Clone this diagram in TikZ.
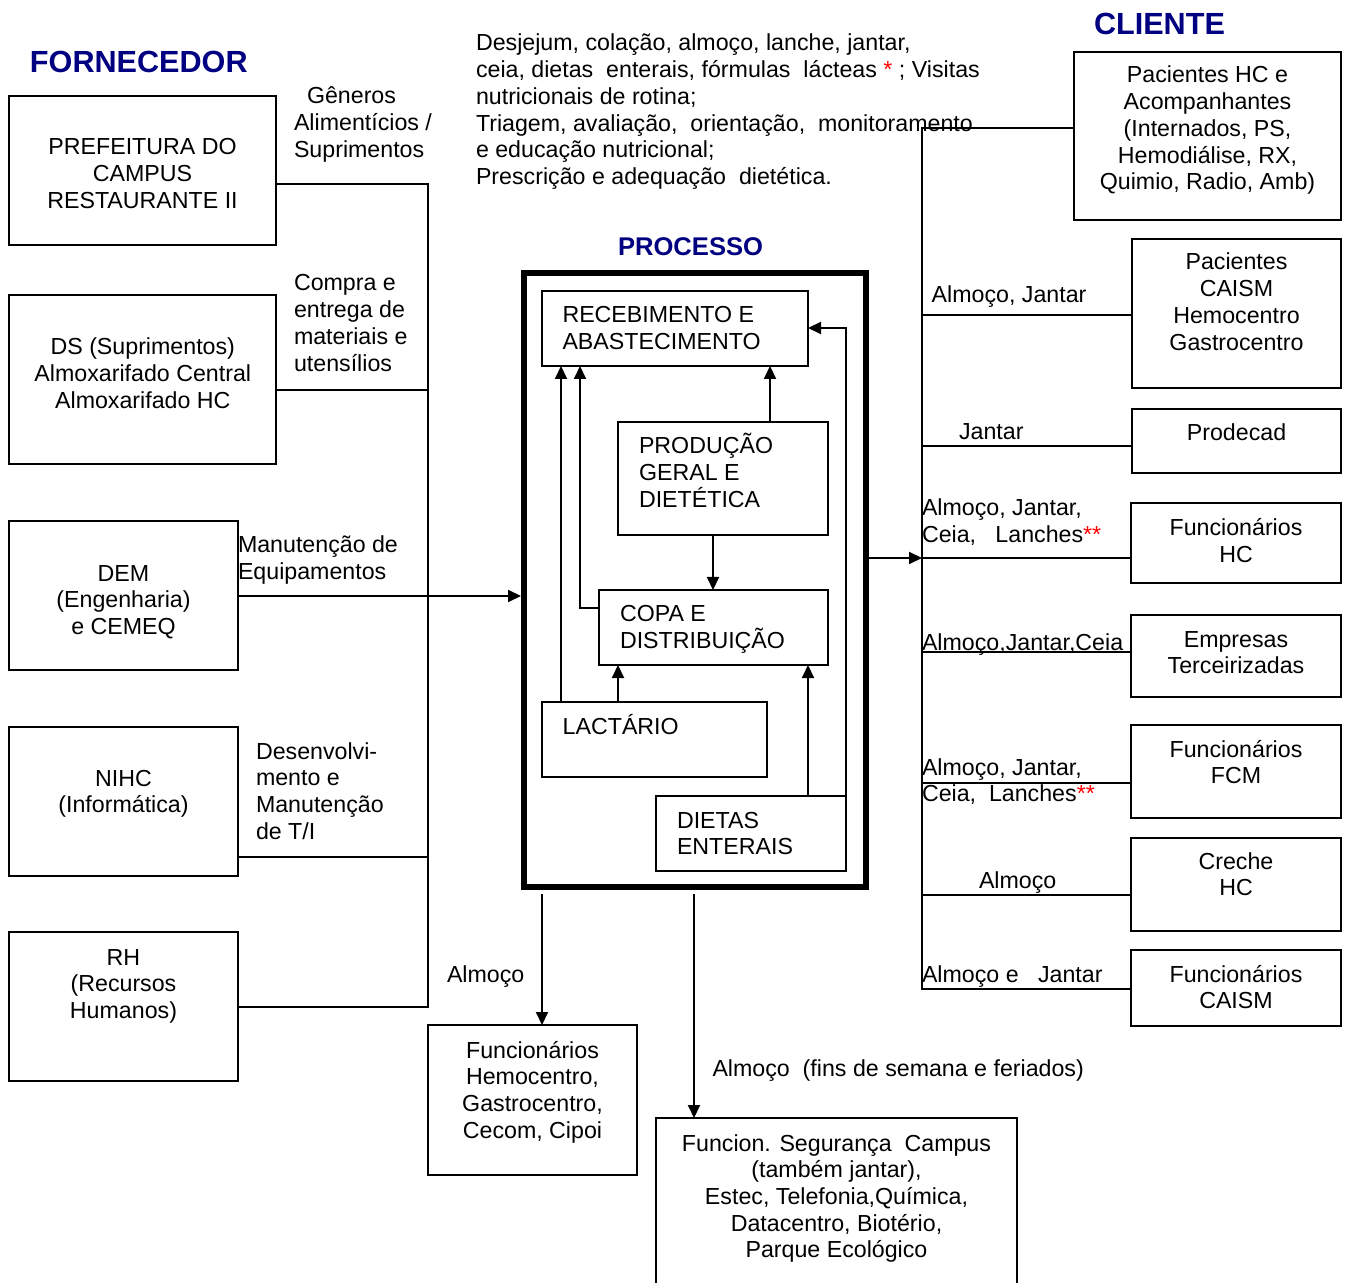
\documentclass[tikz,border=0pt]{standalone}
\usepackage{fontspec}
\setmainfont{Liberation Sans}
\usetikzlibrary{arrows.meta,fit}
\definecolor{titleblue}{RGB}{0,0,128}
\definecolor{starred}{RGB}{255,0,0}
\newcommand\redstar[1]{\textcolor{starred}{#1}}
% fixed height for the first line of a text block
\newcommand\capstrut{\rule{0pt}{11pt}}
\begin{document}
\begin{tikzpicture}[x=0.5pt,y=-0.5pt,
  every node/.style={inner sep=0pt,outer sep=0pt},
  box/.style={draw,line width=1pt,inner sep=0pt},
  bigbox/.style={draw,line width=3pt,inner sep=0pt},
  txt/.style={font=\fontsize{11.6}{13.35}\selectfont},
  ctxt/.style={txt,align=center,anchor=north},
  ltxt/.style={txt,align=left,anchor=north west},
  lbl/.style={txt,anchor=base west},
  title/.style={font=\fontsize{15.3}{18}\selectfont\bfseries,text=titleblue,anchor=base west},
  link/.style={line width=1pt},
  arr/.style={line width=1pt,-{Triangle[length=6.5pt,width=6pt]}},
]
\path[use as bounding box] (0,0) rectangle (1345,1283);
\clip (0,0) rectangle (1345,1283);

% ---------- titles ----------
\node[title] (tForn) at (30,73) {FORNECEDOR};
\node[title] (tCli) at (1094,35) {CLIENTE};
\node[title,font=\fontsize{12.8}{15}\selectfont\bfseries] (tProc) at (618,256) {PROCESSO};

% ---------- suppliers ----------
\node[box,fit={(9,96) (276,245)}] (bPref) {};
\node[ctxt] (tPref) at (142.5,133) {\capstrut PREFEITURA DO\\CAMPUS\\RESTAURANTE II};
\node[box,fit={(9,295) (276,464)}] (bDS) {};
\node[ctxt] (tDS) at (142.8,333) {\capstrut DS (Suprimentos)\\Almoxarifado Central\\Almoxarifado HC};
\node[box,fit={(9,521) (238,670)}] (bDEM) {};
\node[ctxt] (tDEM) at (123.5,559) {\capstrut DEM\\(Engenharia)\\e CEMEQ};
\node[box,fit={(9,727) (238,876)}] (bNIHC) {};
\node[ctxt] (tNIHC) at (123.5,764) {\capstrut NIHC\\(Informática)};
\node[box,fit={(9,932) (238,1081)}] (bRH) {};
\node[ctxt] (tRH) at (123.5,943) {\capstrut RH\\(Recursos\\Humanos)};

\node[ltxt] (lGen) at (294,82) {\capstrut\hspace*{6.5pt}Gêneros\\Alimentícios /\\Suprimentos};
\node[ltxt] (lCompra) at (294,269) {\capstrut Compra e\\entrega de\\materiais e\\utensílios};
\node[ltxt] (lManut) at (238,531) {\capstrut Manutenção de\\Equipamentos};
\node[ltxt] (lDesenv) at (256,737) {\capstrut Desenvolvi-\\mento e\\Manutenção\\de T/I};

% ---------- service description ----------
\node[ltxt] (lServ) at (476,29) {\capstrut Desjejum, colação, almoço, lanche, jantar,\\
ceia, dietas~~enterais, fórmulas~~lácteas \redstar{*} ; Visitas\\
nutricionais de rotina;\\
Triagem, avaliação,~~orientação,~~monitoramento\\
e educação nutricional;\\
Prescrição e adequação~~dietética.};

% ---------- process ----------
\node[bigbox,fit={(524,273) (866,887)}] (proc) {};
\node[box,fit={(542,291) (808,366)}] (rec) {};
\node[ltxt] (tRec) at (562.5,301) {\capstrut RECEBIMENTO E\\ABASTECIMENTO};
\node[box,fit={(618,422) (828,535)}] (prod) {};
\node[ltxt] (tProd) at (639,432) {\capstrut PRODUÇÃO\\GERAL E\\DIETÉTICA};
\node[box,fit={(599,590) (828,665)}] (copa) {};
\node[ltxt] (tCopa) at (620,600) {\capstrut COPA E\\DISTRIBUIÇÃO};
\node[box,fit={(542,702) (767,777)}] (lact) {};
\node[lbl] (tLact) at (562.7,734) {LACTÁRIO};
\node[box,fit={(656,796) (846,871)}] (diet) {};
\node[ltxt] (tDiet) at (677,806) {\capstrut DIETAS\\ENTERAIS};

% ---------- clients ----------
\node[box,fit={(1074,52) (1341,220)}] (phc) {};
\node[ctxt] (tPhc) at (1207.5,61) {\capstrut Pacientes HC e\\Acompanhantes\\(Internados, PS,\\Hemodiálise, RX,\\Quimio, Radio, Amb)};
\node[box,fit={(1132,239) (1341,388)}] (pcaism) {};
\node[ctxt] (tPcaism) at (1236.5,248) {\capstrut Pacientes\\CAISM\\Hemocentro\\Gastrocentro};
\node[box,fit={(1132,409) (1341,473)}] (prodecad) {};
\node[ctxt] (tProdecad) at (1236.5,419) {\capstrut Prodecad};
\node[box,fit={(1131,503) (1341,583)}] (fhc) {};
\node[ctxt] (tFhc) at (1236,514) {\capstrut Funcionários\\HC};
\node[box,fit={(1131,615) (1341,697)}] (emp) {};
\node[ctxt] (tEmp) at (1236,625) {\capstrut Empresas\\Terceirizadas};
\node[box,fit={(1131,725) (1341,818)}] (fcm) {};
\node[ctxt] (tFcm) at (1236,735) {\capstrut Funcionários\\FCM};
\node[box,fit={(1131,838) (1341,931)}] (creche) {};
\node[ctxt] (tCreche) at (1236,847) {\capstrut Creche\\HC};
\node[box,fit={(1131,950) (1341,1026)}] (fcaism) {};
\node[ctxt] (tFcaism) at (1236,960) {\capstrut Funcionários\\CAISM};

\node[lbl] (lR1) at (931.7,303) {Almoço, Jantar};
\node[lbl] (lR2) at (959,440) {Jantar};
\node[ltxt] (lR3) at (922,494) {\capstrut Almoço, Jantar,\\Ceia,~~~Lanches\redstar{**}};
\node[lbl] (lR4) at (922,650) {Almoço,Jantar,Ceia};
\node[ltxt] (lR5) at (922,753) {\capstrut Almoço, Jantar,\\Ceia,~~Lanches\redstar{**}};
\node[lbl] (lR6) at (979,888) {Almoço};
\node[lbl] (lR7) at (922,982) {Almoço e~~~Jantar};

% ---------- bottom clients ----------
\node[box,fit={(428,1025) (637,1175)}] (hem) {};
\node[ctxt] (tHem) at (532.5,1036) {\capstrut Funcionários\\Hemocentro,\\Gastrocentro,\\Cecom, Cipoi};
\node[box,fit={(656,1118) (1017,1300)}] (seg) {};
\node[ctxt] (tSeg) at (836.5,1129) {\capstrut Funcion. Segurança~~Campus\\(também jantar),\\Estec, Telefonia,Química,\\Datacentro, Biotério,\\Parque Ecológico};
\node[lbl] (lB1) at (447,982) {Almoço};
\node[lbl] (lB2) at (712.5,1076) {Almoço~~(fins de semana e feriados)};

% ---------- supplier bus ----------
\coordinate (L1) at (428,184);
\coordinate (L2) at (428,390);
\coordinate (L3) at (428,596);
\coordinate (L4) at (428,857);
\coordinate (L5) at (428,1007);
\draw[link] (L1 -| bPref.east) -- (L1) -- (L5) -- (L5 -| bRH.east);
\draw[link] (L2 -| bDS.east) -- (L2);
\draw[link] (L4 -| bNIHC.east) -- (L4);
\draw[arr,shorten >=1.5pt] (L3 -| bDEM.east) -- (L3 -| proc.west);

% ---------- client bus ----------
\coordinate (R0) at (922,128);
\coordinate (R1) at (922,315);
\coordinate (R2) at (922,446);
\coordinate (R3) at (922,558);
\coordinate (R4) at (922,652);
\coordinate (R5) at (922,783);
\coordinate (R6) at (922,895);
\coordinate (R7) at (922,989);
\draw[link] (R0 -| phc.west) -- (R0) -- (R7) -- (R7 -| fcaism.west);
\draw[link] (R1) -- (R1 -| pcaism.west);
\draw[link] (R2) -- (R2 -| prodecad.west);
\draw[link] (R3) -- (R3 -| fhc.west);
\draw[link] (R4) -- (R4 -| emp.west);
\draw[link] (R5) -- (R5 -| fcm.west);
\draw[link] (R6) -- (R6 -| creche.west);
\draw[arr] (R3 -| proc.east) -- (R3);

% ---------- flows inside the process ----------
\coordinate (X561) at (561,0);
\coordinate (X618) at (618,0);
\coordinate (X713) at (713,0);
\coordinate (X770) at (770,0);
\coordinate (X808) at (808,0);
\coordinate (K608) at (580,608);
\coordinate (K328) at (846,328);
\draw[arr] (X561 |- lact.north) -- (X561 |- rec.south);
\draw[arr] (K608 -| copa.west) -- (K608) -- (K608 |- rec.south);
\draw[arr] (X770 |- prod.north) -- (X770 |- rec.south);
\draw[arr] (X713 |- prod.south) -- (X713 |- copa.north);
\draw[arr] (X618 |- lact.north) -- (X618 |- copa.south);
\draw[arr] (X808 |- diet.north) -- (X808 |- copa.south);
\draw[arr] (diet.north east) -- (K328) -- (K328 -| rec.east);

% ---------- outputs below the process ----------
\coordinate (X542) at (542,0);
\coordinate (X694) at (694,0);
\draw[arr,shorten <=3.5pt] (X542 |- proc.south) -- (X542 |- hem.north);
\draw[arr,shorten <=3.5pt] (X694 |- proc.south) -- (X694 |- seg.north);
\end{tikzpicture}
\end{document}
